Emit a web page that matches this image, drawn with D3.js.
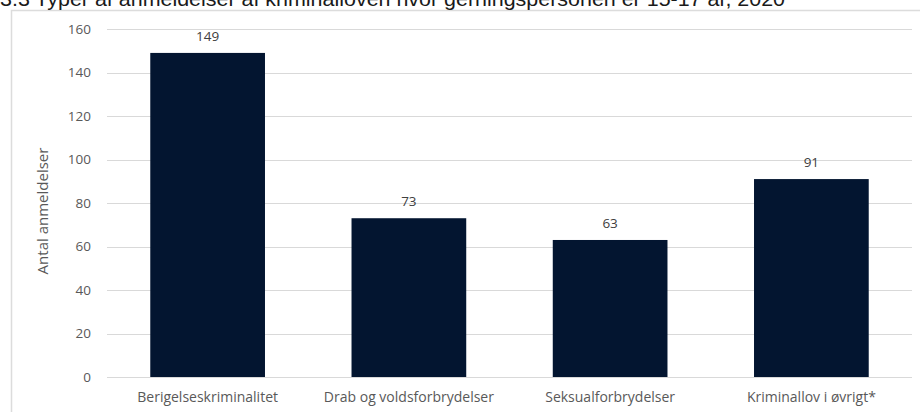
<!DOCTYPE html>
<html>
<head>
<meta charset="utf-8">
<script src="https://cdn.jsdelivr.net/npm/d3@7"></script>
<style>
  body { margin: 0; background: #fff; }
  svg { display: block; }
</style>
</head>
<body>
<svg id="chart"></svg>
<script>
const width = 920;
const height = 412;

// data
const categories = ["Berigelseskriminalitet", "Drab og voldsforbrydelser", "Seksualforbrydelser", "Kriminallov i øvrigt*"];
const values = [149, 73, 63, 91];
const yTicks = [0, 20, 40, 60, 80, 100, 120, 140, 160];

const margin = {top: 29, right: 8, bottom: 35, left: 107};
const font = "Open Sans, sans-serif";

const svg = d3.select("#chart").attr("width", width).attr("height", height);

// outer frame
svg.append("rect")
    .attr("x", 11.5).attr("y", 10.5)
    .attr("width", 940).attr("height", 440)
    .attr("fill", "none")
    .attr("stroke", "#dcdcdc")
    .attr("stroke-width", 1.5);

// title, cut at the top edge as in the picture
svg.append("text")
    .attr("x", 0).attr("y", 6)
    .attr("font-family", "Liberation Sans, Arial, sans-serif")
    .attr("font-size", 20)
    .attr("textLength", 785)
    .attr("lengthAdjust", "spacingAndGlyphs")
    .attr("fill", "#1a1a1a")
    .text("3.3 Typer af anmeldelser af kriminalloven hvor gerningspersonen er 15-17 år, 2020");

const x = d3.scaleBand()
    .domain(categories)
    .range([margin.left, width - margin.right])
    .paddingInner(0.43)
    .paddingOuter(0.215);

const y = d3.scaleLinear()
    .domain([0, 160])
    .range([height - margin.bottom, margin.top]);

// gridlines
svg.append("g")
    .selectAll("line")
    .data(yTicks)
    .join("line")
    .attr("x1", margin.left)
    .attr("x2", width - margin.right)
    .attr("y1", d => Math.round(y(d)) + 0.5)
    .attr("y2", d => Math.round(y(d)) + 0.5)
    .attr("stroke", "#d9d9d9")
    .attr("stroke-width", 1);

// y axis labels
const yAxis = svg.append("g")
    .attr("transform", `translate(${margin.left - 16},0)`)
    .call(d3.axisLeft(y).tickValues(yTicks).tickSize(0).tickPadding(0));
yAxis.select(".domain").remove();
yAxis.selectAll("text")
    .attr("font-family", font)
    .attr("font-size", 13.5)
    .attr("fill", "#595959");

svg.append("text")
    .attr("transform", `translate(48,${(y(0) + y(160)) / 2 + 8}) rotate(-90)`)
    .attr("text-anchor", "middle")
    .attr("font-family", font)
    .attr("font-size", 15)
    .attr("fill", "#595959")
    .text("Antal anmeldelser");

// bars
svg.append("g")
    .selectAll("rect")
    .data(values)
    .join("rect")
    .attr("x", (d, i) => x(categories[i]))
    .attr("y", d => y(d))
    .attr("width", x.bandwidth())
    .attr("height", d => y(0) - y(d))
    .attr("fill", "#031530");

// value labels
svg.append("g")
    .selectAll("text")
    .data(values)
    .join("text")
    .attr("x", (d, i) => x(categories[i]) + x.bandwidth() / 2)
    .attr("y", d => y(d) - 12)
    .attr("text-anchor", "middle")
    .attr("font-family", font)
    .attr("font-size", 13.5)
    .attr("fill", "#404040")
    .text(d => d);

// x axis labels
const xAxis = svg.append("g")
    .attr("transform", `translate(0,${y(0)})`)
    .call(d3.axisBottom(x).tickSize(0).tickPadding(15));
xAxis.select(".domain").remove();
xAxis.selectAll("text")
    .attr("font-family", font)
    .attr("font-size", 14)
    .attr("fill", "#595959");
</script>
</body>
</html>
